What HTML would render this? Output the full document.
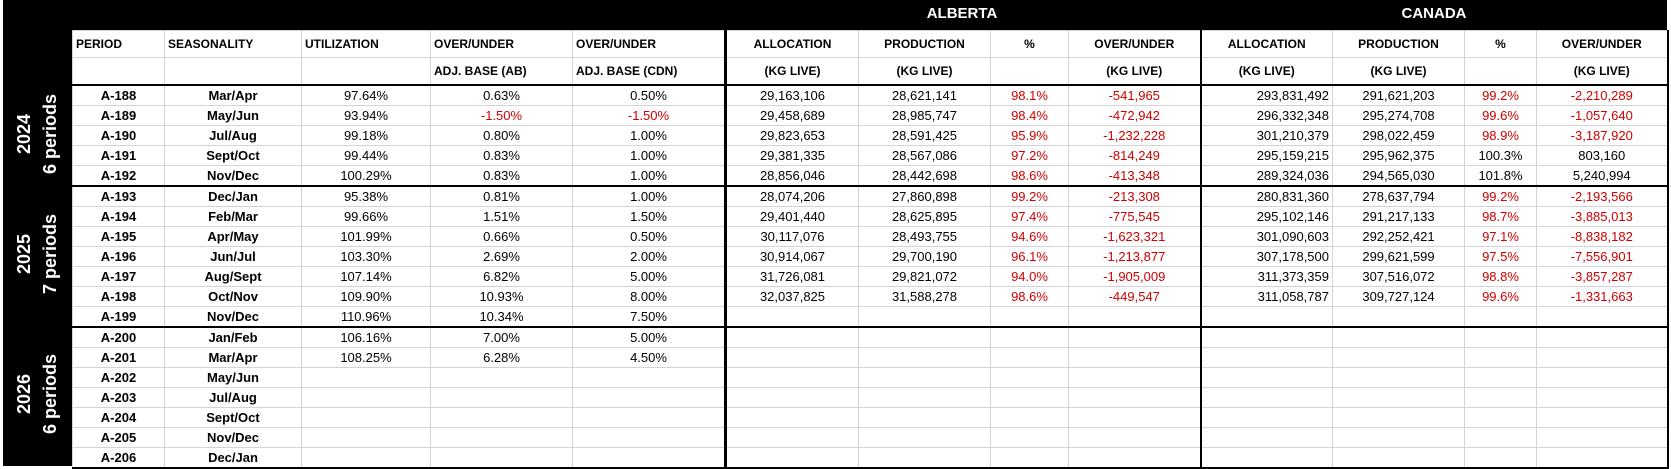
<!DOCTYPE html>
<html><head><meta charset="utf-8"><style>
body{margin:0;width:1671px;height:469px;background:#fff;position:relative;overflow:hidden;font-family:"Liberation Sans",Arial,sans-serif;}
#band{position:absolute;left:3px;top:0;width:1664px;height:30px;background:#000;}
#lcol{position:absolute;left:3px;top:0;width:69px;height:466px;background:#000;}
.ttl{position:absolute;top:5px;color:#fff;font-weight:bold;font-size:15px;transform:translateX(-50%);}
.yr{position:absolute;left:37px;color:#fff;font-weight:bold;font-size:18px;line-height:26px;text-align:center;transform:translate(-50%,-50%) rotate(-90deg);white-space:nowrap;}
table{position:absolute;left:72px;top:30px;width:1595px;table-layout:fixed;border-collapse:collapse;font-size:13px;}
td{border:1px solid #d4d4d4;padding:0;text-align:center;white-space:nowrap;overflow:hidden;height:19px;line-height:19px;}
tr.h td{height:26px;line-height:26px;font-weight:bold;font-size:12px;}
tr.h td.l{text-align:left;padding-left:3px;}
tr.hb td{border-bottom:2px solid #000;}
tr.sep td{border-bottom:2px solid #000;}
td.b{font-weight:bold;}
td:nth-child(5){border-right:3px solid #000;}
td:nth-child(9){border-right:2px solid #000;}
td:nth-child(13){border-right:2px solid #000;}
td.r{text-align:right;padding-right:3px;}
.red{color:#d00000;}
</style></head><body>
<div id="band"></div><div id="lcol"></div>
<div class="ttl" style="left:962px">ALBERTA</div>
<div class="ttl" style="left:1434px">CANADA</div>
<div class="yr" style="top:134px">2024<br>6 periods</div>
<div class="yr" style="top:254px">2025<br>7 periods</div>
<div class="yr" style="top:394px">2026<br>6 periods</div>
<table>
<colgroup><col style="width:92px"><col style="width:137px"><col style="width:129px"><col style="width:142px"><col style="width:153px"><col style="width:133px"><col style="width:132px"><col style="width:78px"><col style="width:132px"><col style="width:132px"><col style="width:132px"><col style="width:72px"><col style="width:131px"></colgroup>
<tr class="h"><td class="l">PERIOD</td><td class="l">SEASONALITY</td><td class="l">UTILIZATION</td><td class="l">OVER/UNDER</td><td class="l">OVER/UNDER</td><td>ALLOCATION</td><td>PRODUCTION</td><td>%</td><td>OVER/UNDER</td><td>ALLOCATION</td><td>PRODUCTION</td><td>%</td><td>OVER/UNDER</td></tr>
<tr class="h hb"><td></td><td></td><td></td><td class="l">ADJ. BASE (AB)</td><td class="l">ADJ. BASE (CDN)</td><td>(KG LIVE)</td><td>(KG LIVE)</td><td></td><td>(KG LIVE)</td><td>(KG LIVE)</td><td>(KG LIVE)</td><td></td><td>(KG LIVE)</td></tr>
<tr><td class="b">A-188</td><td class="b">Mar/Apr</td><td>97.64%</td><td>0.63%</td><td>0.50%</td><td>29,163,106</td><td>28,621,141</td><td class="red">98.1%</td><td class="red">-541,965</td><td class="r">293,831,492</td><td>291,621,203</td><td class="red">99.2%</td><td class="red">-2,210,289</td></tr>
<tr><td class="b">A-189</td><td class="b">May/Jun</td><td>93.94%</td><td class="red">-1.50%</td><td class="red">-1.50%</td><td>29,458,689</td><td>28,985,747</td><td class="red">98.4%</td><td class="red">-472,942</td><td class="r">296,332,348</td><td>295,274,708</td><td class="red">99.6%</td><td class="red">-1,057,640</td></tr>
<tr><td class="b">A-190</td><td class="b">Jul/Aug</td><td>99.18%</td><td>0.80%</td><td>1.00%</td><td>29,823,653</td><td>28,591,425</td><td class="red">95.9%</td><td class="red">-1,232,228</td><td class="r">301,210,379</td><td>298,022,459</td><td class="red">98.9%</td><td class="red">-3,187,920</td></tr>
<tr><td class="b">A-191</td><td class="b">Sept/Oct</td><td>99.44%</td><td>0.83%</td><td>1.00%</td><td>29,381,335</td><td>28,567,086</td><td class="red">97.2%</td><td class="red">-814,249</td><td class="r">295,159,215</td><td>295,962,375</td><td>100.3%</td><td>803,160</td></tr>
<tr class="sep"><td class="b">A-192</td><td class="b">Nov/Dec</td><td>100.29%</td><td>0.83%</td><td>1.00%</td><td>28,856,046</td><td>28,442,698</td><td class="red">98.6%</td><td class="red">-413,348</td><td class="r">289,324,036</td><td>294,565,030</td><td>101.8%</td><td>5,240,994</td></tr>
<tr><td class="b">A-193</td><td class="b">Dec/Jan</td><td>95.38%</td><td>0.81%</td><td>1.00%</td><td>28,074,206</td><td>27,860,898</td><td class="red">99.2%</td><td class="red">-213,308</td><td class="r">280,831,360</td><td>278,637,794</td><td class="red">99.2%</td><td class="red">-2,193,566</td></tr>
<tr><td class="b">A-194</td><td class="b">Feb/Mar</td><td>99.66%</td><td>1.51%</td><td>1.50%</td><td>29,401,440</td><td>28,625,895</td><td class="red">97.4%</td><td class="red">-775,545</td><td class="r">295,102,146</td><td>291,217,133</td><td class="red">98.7%</td><td class="red">-3,885,013</td></tr>
<tr><td class="b">A-195</td><td class="b">Apr/May</td><td>101.99%</td><td>0.66%</td><td>0.50%</td><td>30,117,076</td><td>28,493,755</td><td class="red">94.6%</td><td class="red">-1,623,321</td><td class="r">301,090,603</td><td>292,252,421</td><td class="red">97.1%</td><td class="red">-8,838,182</td></tr>
<tr><td class="b">A-196</td><td class="b">Jun/Jul</td><td>103.30%</td><td>2.69%</td><td>2.00%</td><td>30,914,067</td><td>29,700,190</td><td class="red">96.1%</td><td class="red">-1,213,877</td><td class="r">307,178,500</td><td>299,621,599</td><td class="red">97.5%</td><td class="red">-7,556,901</td></tr>
<tr><td class="b">A-197</td><td class="b">Aug/Sept</td><td>107.14%</td><td>6.82%</td><td>5.00%</td><td>31,726,081</td><td>29,821,072</td><td class="red">94.0%</td><td class="red">-1,905,009</td><td class="r">311,373,359</td><td>307,516,072</td><td class="red">98.8%</td><td class="red">-3,857,287</td></tr>
<tr><td class="b">A-198</td><td class="b">Oct/Nov</td><td>109.90%</td><td>10.93%</td><td>8.00%</td><td>32,037,825</td><td>31,588,278</td><td class="red">98.6%</td><td class="red">-449,547</td><td class="r">311,058,787</td><td>309,727,124</td><td class="red">99.6%</td><td class="red">-1,331,663</td></tr>
<tr class="sep"><td class="b">A-199</td><td class="b">Nov/Dec</td><td>110.96%</td><td>10.34%</td><td>7.50%</td><td></td><td></td><td></td><td></td><td></td><td></td><td></td><td></td></tr>
<tr><td class="b">A-200</td><td class="b">Jan/Feb</td><td>106.16%</td><td>7.00%</td><td>5.00%</td><td></td><td></td><td></td><td></td><td></td><td></td><td></td><td></td></tr>
<tr><td class="b">A-201</td><td class="b">Mar/Apr</td><td>108.25%</td><td>6.28%</td><td>4.50%</td><td></td><td></td><td></td><td></td><td></td><td></td><td></td><td></td></tr>
<tr><td class="b">A-202</td><td class="b">May/Jun</td><td></td><td></td><td></td><td></td><td></td><td></td><td></td><td></td><td></td><td></td><td></td></tr>
<tr><td class="b">A-203</td><td class="b">Jul/Aug</td><td></td><td></td><td></td><td></td><td></td><td></td><td></td><td></td><td></td><td></td><td></td></tr>
<tr><td class="b">A-204</td><td class="b">Sept/Oct</td><td></td><td></td><td></td><td></td><td></td><td></td><td></td><td></td><td></td><td></td><td></td></tr>
<tr><td class="b">A-205</td><td class="b">Nov/Dec</td><td></td><td></td><td></td><td></td><td></td><td></td><td></td><td></td><td></td><td></td><td></td></tr>
<tr class="sep"><td class="b">A-206</td><td class="b">Dec/Jan</td><td></td><td></td><td></td><td></td><td></td><td></td><td></td><td></td><td></td><td></td><td></td></tr>
</table>
</body></html>
